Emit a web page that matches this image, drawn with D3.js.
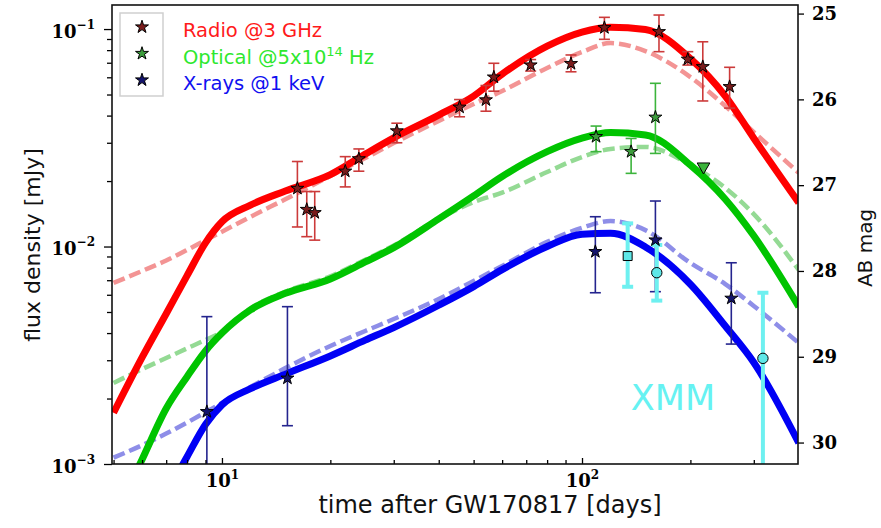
<!DOCTYPE html>
<html>
<head>
<meta charset="utf-8">
<script src="https://cdn.jsdelivr.net/npm/d3@7/dist/d3.min.js"></script>
<style>
  body { margin: 0; background: #fff; }
  svg { display: block; }
</style>
</head>
<body>
<svg id="chart" width="881" height="528"></svg>
<script>
// ---- Model light curves: [days after merger, flux density in mJy] ----
const radioFit = [[5,0.00172],[6,0.00309],[7,0.00491],[8,0.00735],[9,0.0104],[10,0.0130],[12,0.0155],[15,0.0180],[20,0.0214],[25,0.0266],[30,0.0316],[40,0.0402],[50,0.0492],[60,0.0621],[80,0.0835],[100,0.0969],[120,0.102],[150,0.0995],[200,0.0732],[250,0.0492],[300,0.0315],[400,0.0159]];
const radioAlt = [[5,0.00680],[6,0.00772],[7,0.00862],[8,0.00964],[9,0.0107],[10,0.0117],[12,0.0137],[15,0.0165],[20,0.0211],[25,0.0255],[30,0.0299],[40,0.0378],[50,0.0452],[60,0.0519],[80,0.0662],[100,0.0784],[120,0.0862],[150,0.0792],[200,0.0601],[250,0.0443],[300,0.0336],[400,0.0218]];
const opticalFit = [[5,0.000558],[6,0.00105],[7,0.00180],[8,0.00252],[9,0.00331],[10,0.00400],[12,0.00511],[15,0.00609],[20,0.00709],[25,0.00849],[30,0.00988],[40,0.0134],[50,0.0171],[60,0.0210],[80,0.0273],[100,0.0315],[120,0.0334],[150,0.0326],[200,0.0237],[250,0.0165],[300,0.0112],[400,0.00529]];
const opticalAlt = [[5,0.00236],[6,0.00273],[7,0.00307],[8,0.00340],[9,0.00372],[10,0.00405],[12,0.00520],[15,0.00620],[20,0.00730],[25,0.00870],[30,0.0101],[40,0.0134],[50,0.0160],[60,0.0177],[80,0.0220],[100,0.0258],[120,0.0281],[150,0.0287],[200,0.0237],[250,0.0186],[300,0.0141],[400,0.00780]];
const xrayFit = [[7,0.00072],[8,0.00108],[9,0.00152],[10,0.00187],[12,0.00222],[15,0.00259],[20,0.00314],[25,0.00371],[30,0.00424],[40,0.00537],[50,0.00654],[60,0.00783],[80,0.0100],[100,0.0114],[120,0.0115],[150,0.00996],[200,0.00671],[250,0.00431],[300,0.00293],[400,0.00125]];
const xrayAlt = [[5,0.00107],[6,0.00122],[7,0.00138],[8,0.00155],[9,0.00173],[10,0.00191],[12,0.00226],[15,0.00276],[20,0.00349],[25,0.00409],[30,0.00464],[40,0.00574],[50,0.00694],[60,0.00814],[80,0.0105],[100,0.0122],[120,0.0131],[150,0.0119],[200,0.00840],[250,0.00672],[300,0.00533],[400,0.00360]];

// ---- Measurements: [days, flux, lower, upper] ----
const radioObs = [[16.2,0.0185,0.0123,0.0246],[17.2,0.0148,0.0111,0.0179],[18.1,0.0143,0.0107,0.0179],[22.0,0.0222,0.0188,0.0259],[24.0,0.0253,0.0222,0.0281],[30.6,0.0340,0.0300,0.0369],[45.7,0.0437,0.0395,0.0474],[54.1,0.0472,0.0419,0.0550],[56.9,0.0601,0.0518,0.0696],[72.0,0.0683,0.0641,0.0724],[93.2,0.0693,0.0636,0.0760],[115.4,0.1014,0.0897,0.1132],[163.6,0.0972,0.0787,0.1160],[196.7,0.0726,0.0683,0.0787],[216.5,0.0671,0.0467,0.0874],[257.0,0.0543,0.0433,0.0667]];
const opticalObs = [[109.4,0.0320,0.0273,0.0358],[136.9,0.0273,0.0217,0.0314],[159.9,0.0393,0.0268,0.0563]];
const opticalLimits = [[217.5,0.0233]];
const xrayObs = [[9.08,0.00174,0.0007,0.00476],[15.2,0.00248,0.00150,0.00529],[108.9,0.00947,0.00613,0.01371],[159.9,0.01071,0.0062,0.01619],[259.8,0.00578,0.00356,0.00842]];
const xmmObs = [[133.9,0.00904,0.00653,0.01278],[161.3,0.00758,0.00564,0.01016],[318.0,0.00306,0.0007,0.00613]];
const xmmShapes = ["square","circle","circle"];

// ---- Axis ticks ----
const fluxMajor = [1e-3, 1e-2, 1e-1];
const fluxExp = ["\u22123", "\u22122", "\u22121"];
const timeMajor = [10, 100];
const timeExp = ["1", "2"];
const magTicks = [25, 26, 27, 28, 29, 30];

const legendItems = [
  {text: "Radio @3 GHz", color: "#ff1a1a", fill: "#7a1c1c"},
  {text: "Optical @5x10", sup: "14", tail: " Hz", color: "#2ee82e", fill: "#3c9c3c"},
  {text: "X-rays @1 keV", color: "#1010f0", fill: "#14146e"}
];

const P = {left: 112, right: 798, top: 5, bottom: 464};
const svg = d3.select("#chart");

const x = d3.scaleLog().domain([4.95, 398]).range([P.left, P.right]);
const y = d3.scaleLog().domain([1e-3, 0.129]).range([P.bottom, P.top]);
const mag = d3.scaleLinear().domain([24.9, 30.25]).range([P.top, P.bottom]);

svg.append("defs").append("clipPath").attr("id", "plotclip")
  .append("rect").attr("x", P.left).attr("y", P.top)
  .attr("width", P.right - P.left).attr("height", P.bottom - P.top);

const g = svg.append("g").attr("clip-path", "url(#plotclip)");
const line = d3.line().x(d => x(d[0])).y(d => y(d[1])).curve(d3.curveMonotoneX);

// dashed alternative models underneath
[[radioAlt, "#f39494"], [opticalAlt, "#94da94"], [xrayAlt, "#8e8ee8"]].forEach(([data, c]) => {
  g.append("path").datum(data).attr("d", line)
    .attr("fill", "none").attr("stroke", c).attr("stroke-width", 4.5)
    .attr("stroke-dasharray", "12,5");
});
// solid best-fit models
[[radioFit, "#ff0000"], [opticalFit, "#00c400"], [xrayFit, "#0000f5"]].forEach(([data, c]) => {
  g.append("path").datum(data).attr("d", line)
    .attr("fill", "none").attr("stroke", c).attr("stroke-width", 7)
    .attr("stroke-linejoin", "round");
});

function errorBars(data, color, width, cap) {
  const eg = g.append("g").attr("stroke", color).attr("stroke-width", width).attr("fill", "none");
  data.forEach(d => {
    const cx = x(d[0]);
    eg.append("line").attr("x1", cx).attr("x2", cx).attr("y1", y(d[2])).attr("y2", y(d[3]));
    [d[2], d[3]].forEach(v => {
      eg.append("line").attr("x1", cx - cap).attr("x2", cx + cap).attr("y1", y(v)).attr("y2", y(v));
    });
  });
}

errorBars(radioObs, "#cc3a3a", 1.6, 5.5);
errorBars(opticalObs, "#3cb43c", 1.6, 5.5);
errorBars(xrayObs, "#24248e", 1.6, 5.5);
errorBars(xmmObs, "#6ef0f0", 4, 5.5);

const star = d3.symbol(d3.symbolStar, 52);
function stars(data, fill) {
  g.append("g").selectAll("path").data(data).join("path")
    .attr("d", star)
    .attr("transform", d => `translate(${x(d[0])},${y(d[1])})`)
    .attr("fill", fill).attr("stroke", "#000").attr("stroke-width", 1);
}
stars(radioObs, legendItems[0].fill);
stars(opticalObs, legendItems[1].fill);
stars(xrayObs, legendItems[2].fill);

// optical upper limit
g.append("g").selectAll("path").data(opticalLimits).join("path")
  .attr("d", d3.symbol(d3.symbolTriangle, 70))
  .attr("transform", d => `translate(${x(d[0])},${y(d[1])}) rotate(180)`)
  .attr("fill", "#3cb43c").attr("stroke", "#000").attr("stroke-width", 1);

// XMM points
g.append("g").selectAll("path").data(xmmObs).join("path")
  .attr("d", (d, i) => d3.symbol(xmmShapes[i] === "square" ? d3.symbolSquare : d3.symbolCircle, xmmShapes[i] === "square" ? 80 : 85)())
  .attr("transform", d => `translate(${x(d[0])},${y(d[1])})`)
  .attr("fill", "#5ee8e8").attr("stroke", "#000").attr("stroke-width", 1);

svg.append("text").attr("x", 673).attr("y", 410).attr("text-anchor", "middle")
  .attr("font-family", "DejaVu Sans, Verdana, sans-serif").attr("font-size", 35)
  .attr("fill", "#66f2f2").text("XMM");

// ---- Axes ----
const tickFont = "DejaVu Serif, serif";
const fluxMinor = [];
[1e-3, 1e-2].forEach(b => { for (let k = 2; k <= 9; k++) fluxMinor.push(b * k); });
for (let k = 2; k <= 9; k++) if (0.1 * k <= 0.129) fluxMinor.push(0.1 * k);

const timeMinor = [];
[1, 10, 100].forEach(b => { for (let k = 2; k <= 9; k++) { const v = b * k; if (v >= 4.95 && v <= 398) timeMinor.push(v); } });

function styleAxis(sel) {
  sel.select(".domain").remove();
  sel.selectAll(".tick line").attr("stroke", "#000").attr("stroke-width", 1.3);
}

svg.append("g").attr("transform", `translate(${P.left},0)`)
  .call(d3.axisLeft(y).tickValues(fluxMinor).tickSize(5).tickFormat(""))
  .call(styleAxis);
const leftMajor = svg.append("g").attr("transform", `translate(${P.left},0)`)
  .call(d3.axisLeft(y).tickValues(fluxMajor).tickSize(8).tickPadding(9).tickFormat(""))
  .call(styleAxis);
leftMajor.selectAll(".tick text").each(function(d, i) {
  const t = d3.select(this).attr("font-family", tickFont).attr("font-weight", "bold")
    .attr("font-size", 18).attr("fill", "#000").attr("dy", "0.45em");
  t.append("tspan").text("10");
  t.append("tspan").attr("font-size", 12).attr("dy", "-0.75em").text(fluxExp[i]);
});

svg.append("g").attr("transform", `translate(0,${P.bottom})`)
  .call(d3.axisTop(x).tickValues(timeMinor).tickSize(4).tickFormat(""))
  .call(styleAxis);
const bottomMajor = svg.append("g").attr("transform", `translate(0,${P.bottom})`)
  .call(d3.axisTop(x).tickValues(timeMajor).tickSize(6).tickFormat(""))
  .call(styleAxis);
bottomMajor.selectAll(".tick").each(function(d, i) {
  const t = d3.select(this).append("text").attr("y", 23).attr("x", 0)
    .attr("text-anchor", "middle").attr("font-family", tickFont).attr("font-weight", "bold")
    .attr("font-size", 18).attr("fill", "#000");
  t.append("tspan").text("10");
  t.append("tspan").attr("font-size", 12).attr("dy", "-0.7em").text(timeExp[i]);
});

const rightAxis = svg.append("g").attr("transform", `translate(${P.right},0)`)
  .call(d3.axisRight(mag).tickValues(magTicks).tickSize(6).tickPadding(8).tickFormat(d3.format("d")))
  .call(styleAxis);
rightAxis.selectAll(".tick text").attr("font-family", tickFont).attr("font-weight", "bold")
  .attr("font-size", 18).attr("fill", "#000");

// frame
svg.append("rect").attr("x", P.left).attr("y", P.top)
  .attr("width", P.right - P.left).attr("height", P.bottom - P.top)
  .attr("fill", "none").attr("stroke", "#111").attr("stroke-width", 1.6);

// ---- Axis titles ----
const labelFont = "DejaVu Sans, Verdana, sans-serif";
svg.append("text").attr("x", 490).attr("y", 513).attr("text-anchor", "middle")
  .attr("font-family", labelFont).attr("font-size", 24).attr("fill", "#111")
  .text("time after GW170817 [days]");
svg.append("text").attr("transform", "translate(40,245) rotate(-90)").attr("text-anchor", "middle")
  .attr("font-family", labelFont).attr("font-size", 22).attr("fill", "#111")
  .text("flux density [mJy]");
svg.append("text").attr("transform", "translate(872,248) rotate(-90)").attr("text-anchor", "middle")
  .attr("font-family", labelFont).attr("font-size", 20).attr("fill", "#111")
  .text("AB mag");

// ---- Legend ----
const lg = svg.append("g");
lg.append("rect").attr("x", 120).attr("y", 13).attr("width", 43).attr("height", 83)
  .attr("fill", "#fff").attr("stroke", "#cfcfcf").attr("stroke-width", 1.5);
legendItems.forEach((it, i) => {
  const cy = 27 + i * 26.5;
  lg.append("path").attr("d", star).attr("transform", `translate(142,${cy})`)
    .attr("fill", it.fill).attr("stroke", "#000").attr("stroke-width", 1);
  const t = lg.append("text").attr("x", 183).attr("y", cy + 10)
    .attr("font-family", labelFont).attr("font-size", 19.5).attr("fill", it.color);
  t.append("tspan").text(it.text);
  if (it.sup) {
    t.append("tspan").attr("font-size", 13).attr("dy", "-0.6em").text(it.sup);
    t.append("tspan").attr("dy", "0.4em").text(it.tail);
  }
});
</script>
</body>
</html>
